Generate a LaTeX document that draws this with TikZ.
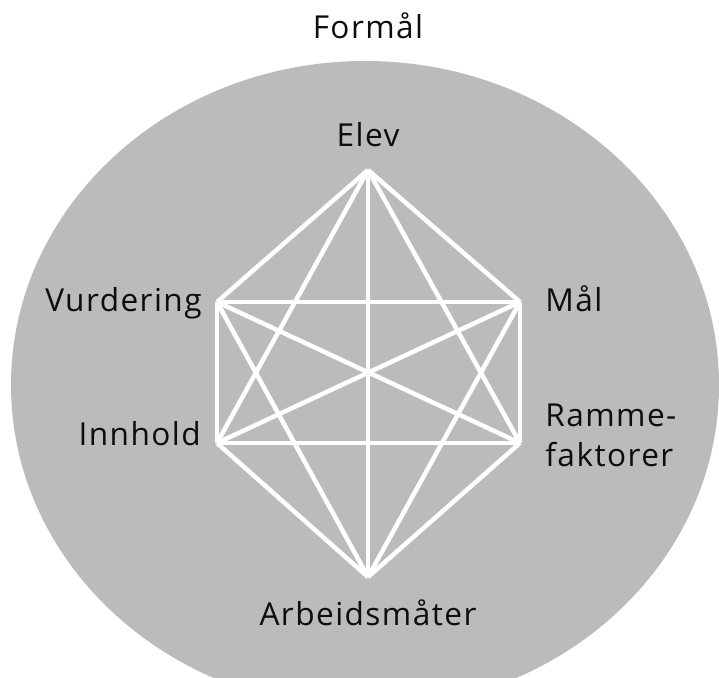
\documentclass[tikz,border=0pt]{standalone}
\usepackage{fontspec}
\setmainfont{Open Sans}[LetterSpace=4.5]
\usepackage{tikz}
\usetikzlibrary{positioning}
\definecolor{ringgray}{RGB}{187,187,187}

\begin{document}
\begin{tikzpicture}[x=0.02cm,y=-0.02cm,
  lbl/.style={font=\fontsize{18}{22.7}\selectfont,text=black!95,inner sep=0pt},
  edge/.style={draw=white,line width=0.09cm}]
\useasboundingbox (0,0) rectangle (719,678);
\fill[ringgray] (365,385) ellipse [x radius=354,y radius=324];

% corners of the hexagon
\coordinate (elev) at (368,170);
\coordinate (vurd) at (217,302);
\coordinate (maal) at (520,302);
\coordinate (innh) at (217,443);
\coordinate (ramme) at (520,443);
\coordinate (arb) at (368,577);

% every corner joined to every other
\foreach \a/\b in {elev/vurd,elev/maal,elev/innh,elev/ramme,elev/arb,
                   vurd/maal,vurd/innh,vurd/ramme,vurd/arb,
                   maal/innh,maal/ramme,maal/arb,
                   innh/ramme,innh/arb,ramme/arb}
  \draw[edge] (\a) -- (\b);

\node[lbl,anchor=base] (formaaltxt) at (368,39) {Formål};
\node[lbl,anchor=base] (elevtxt) at (368,147) {Elev};
\node[lbl,anchor=base east] (vurdtxt) at (202,312) {Vurdering};
\node[lbl,anchor=base west] (maaltxt) at (545,312) {Mål};
\node[lbl,anchor=base east] (innhtxt) at (201,445) {Innhold};
\node[lbl,anchor=base west,align=left] (rammetxt) at (545,466) {Ramme-\\faktorer};
\node[lbl,anchor=base] (arbtxt) at (368,625) {Arbeidsmåter};

\end{tikzpicture}
\end{document}
